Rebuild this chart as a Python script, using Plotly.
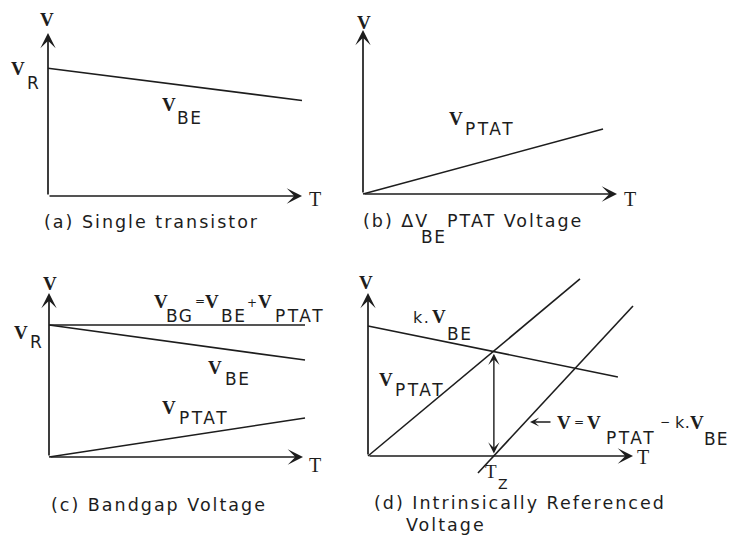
import plotly.graph_objects as go

W, H = 729, 538
INK = "#1d1d1d"
SERIF = "Liberation Serif, Times New Roman, serif"
SANS = "DejaVu Sans, Verdana, sans-serif"

# ---- curve data: temperature T vs voltage V, in panel units (axes run 0..10) ----
# (a) single transistor
A_T = [0.0, 10.0]
A_VBE = [7.84, 5.86]
# (b) delta-VBE PTAT voltage
B_T = [0.0, 9.45]
B_PTAT = [0.0, 3.96]
# (c) bandgap voltage
C_T = [0.0, 10.08]
C_VBG = [8.05, 8.05]
C_VBE = [8.05, 5.91]
C_PTAT = [0.0, 2.38]
# (d) intrinsically referenced voltage
D_T_KVBE = [0.0, 9.43]
D_KVBE = [7.98, 4.85]
D_T_PTAT = [0.0, 8.0]
D_PTAT = [0.0, 10.86]
D_T_V = [4.15, 10.0]
D_V = [-1.04, 9.2]
D_TZ = 4.75
D_VCROSS = 6.4

AXIS_LEN = 10.0

# panel placement: origin (px), axis tips (px), visible ranges in panel units
PANELS = {
    1: dict(origin=(48, 196), tip=(302, 33), xr=(-1, 11), yr=(-1, 11)),
    2: dict(origin=(363, 194), tip=(617, 30), xr=(-1, 11), yr=(-1, 11)),
    3: dict(origin=(49, 457), tip=(303, 293), xr=(-1, 11), yr=(-1, 11)),
    4: dict(origin=(368, 456), tip=(633, 293), xr=(-1, 12), yr=(-2, 11.5)),
}

fig = go.Figure()
layout = dict(
    width=W, height=H, margin=dict(l=0, r=0, t=0, b=0),
    paper_bgcolor="white", plot_bgcolor="rgba(0,0,0,0)",
    showlegend=False,
)
annotations = []


def ax_names(n):
    return ("x" if n == 1 else f"x{n}"), ("y" if n == 1 else f"y{n}")


for n, p in PANELS.items():
    ox, oy = p["origin"]
    tx, ty = p["tip"]
    sx = (tx - ox) / AXIS_LEN
    sy = (oy - ty) / AXIS_LEN
    left = ox + p["xr"][0] * sx
    right = ox + p["xr"][1] * sx
    bottom = oy - p["yr"][0] * sy
    top = oy - p["yr"][1] * sy
    xk = "xaxis" if n == 1 else f"xaxis{n}"
    yk = "yaxis" if n == 1 else f"yaxis{n}"
    xn, yn = ax_names(n)
    layout[xk] = dict(domain=[left / W, right / W], range=list(p["xr"]),
                      visible=False, anchor=yn, fixedrange=True)
    layout[yk] = dict(domain=[1 - bottom / H, 1 - top / H], range=list(p["yr"]),
                      visible=False, anchor=xn, fixedrange=True)
    # T and V axes with arrowheads
    for hx, hy in ((AXIS_LEN, 0), (0, AXIS_LEN)):
        annotations.append(dict(
            x=hx, y=hy, ax=0, ay=0, xref=xn, yref=yn, axref=xn, ayref=yn,
            text="", showarrow=True, arrowhead=3, arrowsize=1.5,
            arrowwidth=1.7, arrowcolor=INK,
        ))


def line(n, xs, ys):
    xn, yn = ax_names(n)
    fig.add_trace(go.Scatter(
        x=xs, y=ys, xaxis=xn, yaxis=yn, mode="lines",
        line=dict(color=INK, width=1.6), hoverinfo="skip",
    ))


line(1, A_T, A_VBE)
line(2, B_T, B_PTAT)
line(3, C_T, C_VBG)
line(3, C_T, C_VBE)
line(3, C_T, C_PTAT)
line(4, D_T_KVBE, D_KVBE)
line(4, D_T_PTAT, D_PTAT)
line(4, D_T_V, D_V)

# vertical double arrow at T_Z in (d)
annotations.append(dict(
    x=D_TZ, y=D_VCROSS, ax=D_TZ, ay=0, xref="x4", yref="y4", axref="x4", ayref="y4",
    text="", showarrow=True, arrowhead=3, startarrowhead=3, arrowside="end+start",
    arrowsize=1.35, startarrowsize=1.35, arrowwidth=1.4, arrowcolor=INK,
    standoff=2, startstandoff=1,
))


def label(px, py, text, size, family, anchor="center", ls=None, weight="normal"):
    if ls:
        text = f'<span style="letter-spacing:{ls}px">{text}</span>'
    annotations.append(dict(
        x=px / W, y=1 - (py + 0.08 * size) / H, xref="paper", yref="paper",
        text=text, showarrow=False, xanchor=anchor, yanchor="middle",
        borderpad=0,
        font=dict(family=family, size=size, color=INK, weight=weight),
    ))


def V(px, py):
    label(px, py, "V", 19, SERIF, weight=600)


def T(px, py):
    label(px, py, "T", 20, SERIF)


def sub(px, py, text, ls=1.5):
    label(px, py, text, 17, SANS, ls=ls)


def caption(px, py, text):
    label(px, py, text, 17.5, SANS, anchor="left", ls=2.0)


# (a)
V(47, 18); T(315, 197)
V(18, 67); sub(33.5, 82, "R")
V(169, 103); sub(189, 117, "BE")
caption(43, 221, "(a) Single transistor")

# (b)
V(364, 21); T(630, 197)
V(456, 117); sub(490, 128, "PTAT", ls=2.5)
caption(362, 220, "(b) ΔV")
sub(433, 236, "BE")
caption(446, 220, "PTAT Voltage")

# (c)
V(50, 282); T(315, 463)
V(21, 331); sub(36.5, 341, "R")
V(161, 300); sub(180, 315, "BG")
label(200, 300, "=", 12, SANS)
V(212, 300); sub(233, 315, "BE")
label(252, 302, "+", 12, SANS)
V(265, 300); sub(300, 315, "PTAT", ls=2.5)
V(215, 366); sub(238, 378, "BE")
V(169, 406); sub(204, 417, "PTAT", ls=2.5)
caption(50, 504, "(c) Bandgap Voltage")

# (d)
V(366, 281); T(643, 455)
label(421, 316, "k.", 16, SANS, ls=1.5)
V(439, 315); sub(459, 333, "BE")
V(386, 378); sub(420, 389, "PTAT", ls=2.5)
annotations.append(dict(
    x=530 / W, y=1 - 422 / H, xref="paper", yref="paper", ax=22, ay=0,
    text="", showarrow=True, arrowhead=3, arrowsize=1.1, arrowwidth=1.4,
    arrowcolor=INK,
))
V(564, 421)
label(579, 421, "=", 12, SANS)
V(594, 421); sub(631, 437, "PTAT", ls=2.5)
label(665, 421, "−", 12, SANS)
label(682, 421, "k.", 16, SANS, ls=0.5)
V(697, 421); sub(716, 438, "BE", ls=1)
label(491, 470, "T", 19, SERIF)
label(503, 483, "Z", 14, SANS)
caption(373, 502, "(d) Intrinsically Referenced")
caption(405, 524, "Voltage")

layout["annotations"] = annotations
fig.update_layout(**layout)
fig.write_html("out.html")
